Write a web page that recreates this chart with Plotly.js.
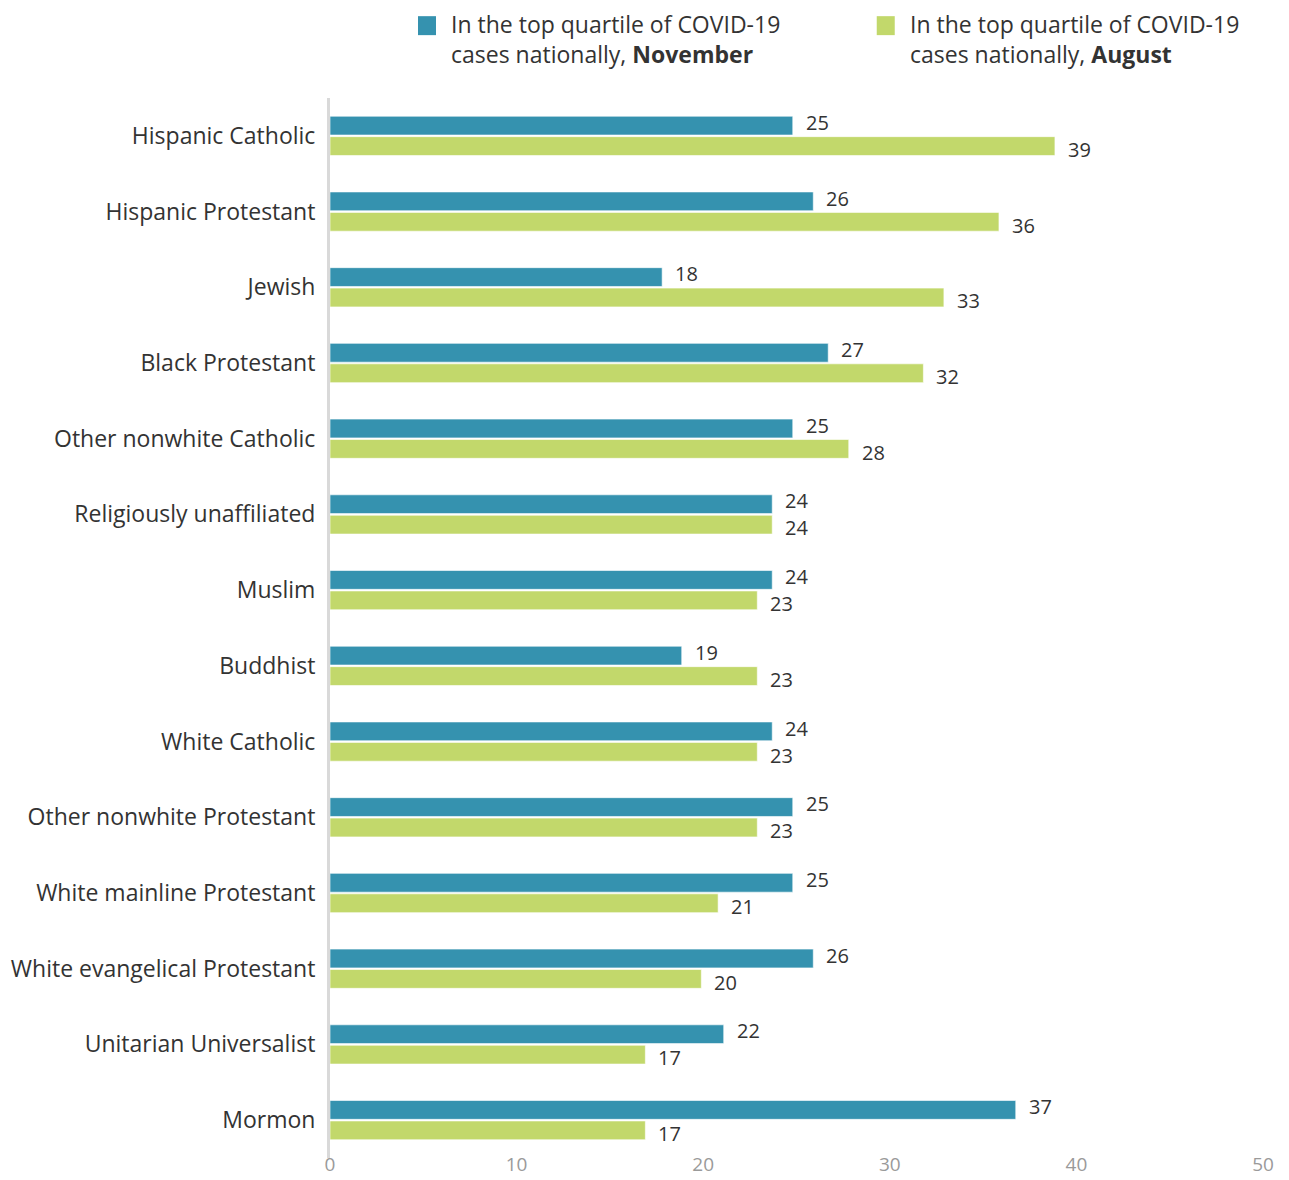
<!DOCTYPE html>
<html>
<head>
<meta charset="utf-8">
<script src="https://cdn.plot.ly/plotly-3.0.1.min.js"></script>
<style>html,body{margin:0;padding:0;background:#fff;}#chart{width:1289px;height:1180px;}</style>
</head>
<body>
<div id="chart"></div>
<script>
const categories = [
  "Hispanic Catholic", "Hispanic Protestant", "Jewish", "Black Protestant",
  "Other nonwhite Catholic", "Religiously unaffiliated", "Muslim", "Buddhist",
  "White Catholic", "Other nonwhite Protestant", "White mainline Protestant",
  "White evangelical Protestant", "Unitarian Universalist", "Mormon"
];
const seriesNames = [
  "In the top quartile of COVID-19<br>cases nationally, <b>November</b>",
  "In the top quartile of COVID-19<br>cases nationally, <b>August</b>"
];
const novemberValues = [24.8, 25.9, 17.8, 26.7, 24.8, 23.7, 23.7, 18.85, 23.7, 24.8, 24.8, 25.9, 21.1, 36.75];
const novemberLabels = ["25", "26", "18", "27", "25", "24", "24", "19", "24", "25", "25", "26", "22", "37"];
const augustValues = [38.85, 35.85, 32.9, 31.8, 27.8, 23.7, 22.9, 22.9, 22.9, 22.9, 20.8, 19.9, 16.9, 16.9];
const augustLabels = ["39", "36", "33", "32", "28", "24", "23", "23", "23", "23", "21", "20", "17", "17"];
const xTicks = [0, 10, 20, 30, 40, 50];

const colors = ["#3592af", "#c2d86b"];
const FONT = "'Open Sans', 'Noto Sans', sans-serif";

const seriesValues = [novemberValues, augustValues];
const seriesLabels = [novemberLabels, augustLabels];

const traces = seriesValues.map((vals, i) => ({
  type: "bar", orientation: "h", y: categories, x: vals,
  name: seriesNames[i], showlegend: false,
  marker: {color: colors[i], line: {color: "rgba(255,255,255,0.6)", width: 1}},
  hoverinfo: "none"
}));

const shapes = [];
const annotations = [];

// value labels, anchored to bar ends through the axes, nudged apart vertically
const labelShift = [13.5, -13.5];
seriesValues.forEach((vals, i) => {
  vals.forEach((v, j) => {
    annotations.push({xref: "x", yref: "y", x: v, y: categories[j],
      text: seriesLabels[i][j], showarrow: false,
      xanchor: "left", yanchor: "middle", xshift: 11, yshift: labelShift[i],
      font: {family: FONT, size: 20, color: "#333333"}});
  });
});

// manual legend (larger swatches), placed in paper coords
const legendX = [0.0943, 0.586];
seriesNames.forEach((nm, i) => {
  shapes.push({type: "rect", xref: "paper", yref: "paper",
    x0: legendX[i], x1: legendX[i] + 0.0193, y0: 1.0593, y1: 1.0772,
    fillcolor: colors[i], line: {width: 0}});
  annotations.push({xref: "paper", yref: "paper", x: legendX[i] + 0.0333, y: 1.0864,
    xanchor: "left", yanchor: "top", align: "left", showarrow: false,
    text: nm, font: {family: FONT, size: 23, color: "#333333"}});
});

const layout = {
  width: 1289, height: 1180,
  margin: {l: 330, r: 26, t: 98, b: 22},
  paper_bgcolor: "#ffffff", plot_bgcolor: "#ffffff",
  font: {family: FONT, color: "#333333"},
  barmode: "group", bargap: 0.46, bargroupgap: 0.08,
  showlegend: false,
  xaxis: {range: [0, 50], tickvals: xTicks, ticktext: xTicks.map(String),
    showgrid: false, zeroline: false, showline: false, ticklabelstandoff: -7,
    tickfont: {family: FONT, size: 19, color: "#9a9a9a"}, fixedrange: true},
  yaxis: {autorange: "reversed", showgrid: false, zeroline: false,
    showline: true, linecolor: "#d9d9d9", linewidth: 3,
    ticks: "", ticklabelstandoff: 7,
    tickfont: {family: FONT, size: 23, color: "#333333"}, fixedrange: true},
  shapes: shapes,
  annotations: annotations
};

Plotly.newPlot("chart", traces, layout, {displayModeBar: false, staticPlot: true});
</script>
</body>
</html>
